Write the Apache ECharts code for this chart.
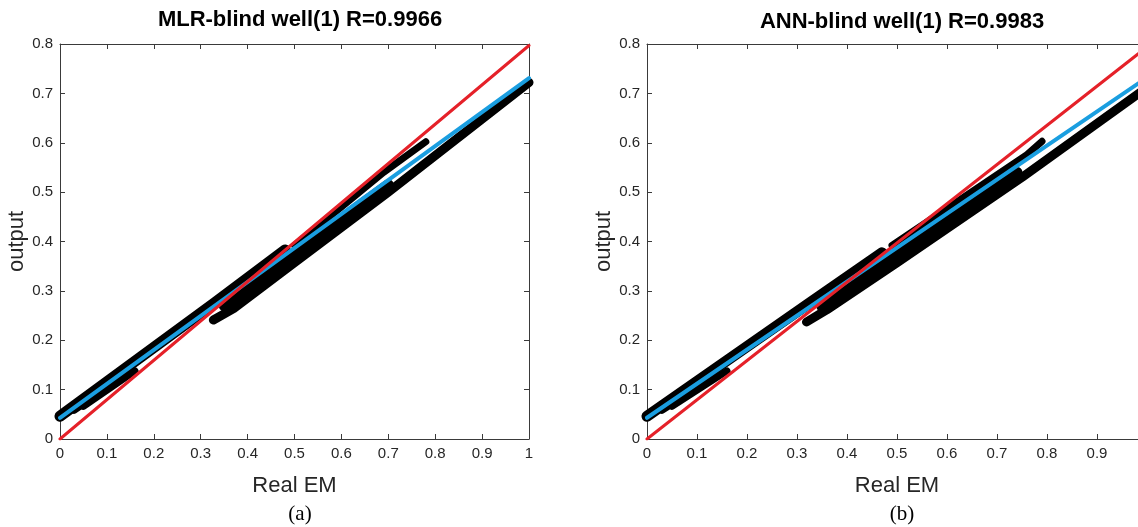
<!DOCTYPE html>
<html>
<head>
<meta charset="utf-8">
<script src="https://cdn.jsdelivr.net/npm/echarts@6/dist/echarts.min.js"></script>
<style>
    html, body { margin: 0; padding: 0; background: #fff; }
    #main { width: 1138px; height: 527px; }
</style>
</head>
<body>
<div id="main"></div>
<script>
// panel titles
var panelTitles = ['MLR-blind well(1) R=0.9966', 'ANN-blind well(1) R=0.9983'];
var panelLabels = ['(a)', '(b)'];

// MLR panel (a): ideal line, fitted line, black data streaks
var mlrIdeal = [[0, 0], [1, 0.797]];
var mlrFit = [[0, 0.043], [1, 0.731]];
var mlrBandA = [[0.0, 0.046], [0.33, 0.276], [0.48, 0.383]];
var mlrBandB = [[0.327, 0.241], [0.37, 0.264], [0.50, 0.357], [0.70, 0.500], [1.0, 0.722]];
var mlrBandC = [[0.35, 0.270], [0.70, 0.515]];
var mlrBandD = [[0.50, 0.392], [0.69, 0.540], [0.78, 0.602]];
var mlrBandE = [[0.03, 0.058], [0.12, 0.116]];
var mlrBandF = [[0.05, 0.066], [0.16, 0.138]];

// ANN panel (b)
var annIdeal = [[0, 0], [1, 0.794]];
var annFit = [[0, 0.043], [1, 0.732]];
var annBandA = [[0.0, 0.046], [0.32, 0.272], [0.47, 0.377]];
var annBandB = [[0.319, 0.237], [0.36, 0.262], [0.50, 0.357], [0.75, 0.530], [1.0, 0.712]];
var annBandC = [[0.35, 0.268], [0.74, 0.540]];
var annBandD = [[0.49, 0.392], [0.76, 0.576], [0.79, 0.603]];
var annBandE = [[0.03, 0.058], [0.12, 0.116]];
var annBandF = [[0.05, 0.066], [0.16, 0.138]];

var fontSans = 'Liberation Sans, Arial, sans-serif';
var axisColor = '#3a3a3a';
var labelColor = '#262626';

function mainX(grid) {
    return {
        gridIndex: grid, type: 'value', min: 0, max: 1, interval: 0.1,
        name: 'Real EM', nameLocation: 'middle', nameGap: 36,
        nameTextStyle: { fontFamily: fontSans, fontSize: 22, color: labelColor },
        axisLine: { show: true, lineStyle: { color: axisColor, width: 1 } },
        axisTick: { show: true, inside: true, length: 5, lineStyle: { color: axisColor } },
        axisLabel: { fontFamily: fontSans, fontSize: 15, color: labelColor, margin: 7 },
        splitLine: { show: false }
    };
}
function mainY(grid) {
    return {
        gridIndex: grid, type: 'value', min: 0, max: 0.8, interval: 0.1,
        name: 'output', nameLocation: 'middle', nameGap: 31,
        nameTextStyle: { fontFamily: fontSans, fontSize: 22, color: labelColor },
        axisLine: { show: true, lineStyle: { color: axisColor, width: 1 } },
        axisTick: { show: true, inside: true, length: 5, lineStyle: { color: axisColor } },
        axisLabel: { fontFamily: fontSans, fontSize: 15, color: labelColor, margin: 7 },
        splitLine: { show: false }
    };
}
function boxX(grid) {
    return {
        gridIndex: grid, type: 'value', min: 0, max: 1, interval: 0.1, position: 'top',
        axisLine: { show: true, onZero: false, lineStyle: { color: axisColor, width: 1 } },
        axisTick: { show: true, inside: true, length: 5, lineStyle: { color: axisColor } },
        axisLabel: { show: false }, splitLine: { show: false }
    };
}
function boxY(grid) {
    return {
        gridIndex: grid, type: 'value', min: 0, max: 0.8, interval: 0.1, position: 'right',
        axisLine: { show: true, onZero: false, lineStyle: { color: axisColor, width: 1 } },
        axisTick: { show: true, inside: true, length: 5, lineStyle: { color: axisColor } },
        axisLabel: { show: false }, splitLine: { show: false }
    };
}

function band(grid, data, width) {
    return {
        type: 'line', xAxisIndex: grid, yAxisIndex: grid, data: data,
        showSymbol: false, silent: true, z: 2,
        lineStyle: { color: '#000', width: width, cap: 'round', join: 'round' }
    };
}
function fitLine(grid, data, color, width, z) {
    return {
        type: 'line', xAxisIndex: grid, yAxisIndex: grid, data: data,
        showSymbol: false, silent: true, z: z,
        lineStyle: { color: color, width: width, cap: 'round' }
    };
}

var chart = echarts.init(document.getElementById('main'));
var titleStyle = { fontFamily: fontSans, fontSize: 22, fontWeight: 'bold', color: '#000' };
var subStyle = { fontFamily: 'Liberation Serif, Times New Roman, serif', fontSize: 21, fontWeight: 'normal', color: '#000' };
var option = {
    animation: false,
    backgroundColor: '#fff',
    title: [
        { text: panelTitles[0], left: 295, top: 4, textAlign: 'center', textStyle: titleStyle },
        { text: panelTitles[1], left: 897, top: 6, textAlign: 'center', textStyle: titleStyle },
        { text: panelLabels[0], left: 295, top: 499, textAlign: 'center', textStyle: subStyle },
        { text: panelLabels[1], left: 897, top: 499, textAlign: 'center', textStyle: subStyle }
    ],
    grid: [
        { left: 60, top: 44, width: 469, height: 395, outerBoundsMode: 'none' },
        { left: 647, top: 44, width: 500, height: 395, outerBoundsMode: 'none' }
    ],
    xAxis: [mainX(0), mainX(1), boxX(0), boxX(1)],
    yAxis: [mainY(0), mainY(1), boxY(0), boxY(1)],
    series: [
        band(0, mlrBandA, 11), band(0, mlrBandB, 9), band(0, mlrBandC, 11),
        band(0, mlrBandD, 7), band(0, mlrBandE, 7), band(0, mlrBandF, 7),
        fitLine(0, mlrFit, '#1a9ee0', 4, 4),
        fitLine(0, mlrIdeal, '#e52129', 3, 5),
        band(1, annBandA, 11), band(1, annBandB, 9), band(1, annBandC, 11),
        band(1, annBandD, 7), band(1, annBandE, 7), band(1, annBandF, 7),
        fitLine(1, annFit, '#1a9ee0', 4, 4),
        fitLine(1, annIdeal, '#e52129', 3, 5)
    ]
};
chart.setOption(option);
</script>
</body>
</html>
